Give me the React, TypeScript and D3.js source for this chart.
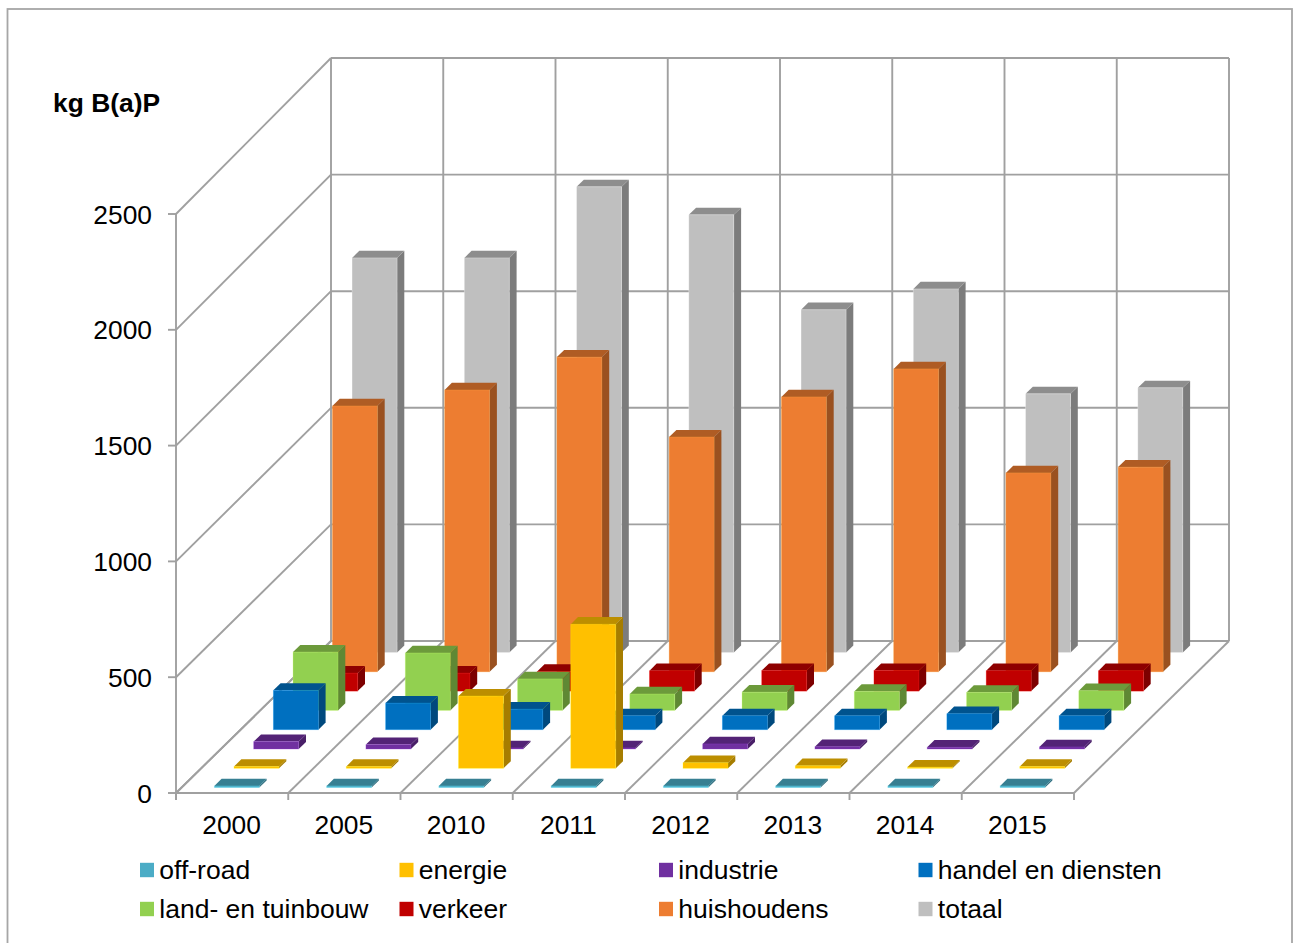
import React from "react";
import * as d3 from "d3";

const years = ["2000", "2005", "2010", "2011", "2012", "2013", "2014", "2015"];
const seriesNames = ["off-road", "energie", "industrie", "handel en diensten", "land- en tuinbouw", "verkeer", "huishoudens", "totaal"];
const seriesColors = ["#4BACC6", "#FFC000", "#7030A0", "#0070C0", "#92D050", "#C00000", "#ED7D31", "#BFBFBF"];
const valueTicks = [0, 500, 1000, 1500, 2000, 2500];

const offRoad = [7, 7, 7, 7, 7, 7, 7, 7];
const energie = [8, 8, 312, 622, 24, 11, 5, 8];
const industrie = [32, 19, 5, 5, 22, 10, 8, 9];
const handel = [170, 115, 89, 60, 60, 60, 69, 60];
const land = [252, 248, 136, 71, 79, 82, 78, 85];
const verkeer = [78, 78, 85, 88, 89, 89, 88, 88];
const huishoudens = [1148, 1217, 1359, 1014, 1187, 1308, 859, 884];
const totaal = [1704, 1704, 2011, 1890, 1480, 1570, 1117, 1143];
const seriesValues = [offRoad, energie, industrie, handel, land, verkeer, huishoudens, totaal];

const FRONT_LEFT = 176;
const FRONT_RIGHT = 1074;
const FLOOR_FRONT = 793;
const FLOOR_BACK = 641;
const TOP_FRONT = 214;
const TOP_BACK = 58;
const DEPTH = FLOOR_FRONT - FLOOR_BACK;
const GRID = "#A0A0A0";
const FONT = "'Liberation Sans', Arial, sans-serif";

// Category axis along the front edge of the floor.
const xCat = d3.scaleBand<string>().domain(years).range([FRONT_LEFT, FRONT_RIGHT]).paddingInner(0).paddingOuter(0);
// Value axes on the front corner and on the back wall.
const yFront = d3.scaleLinear().domain([0, 2500]).range([FLOOR_FRONT, TOP_FRONT]);
const yBack = d3.scaleLinear().domain([0, 2500]).range([FLOOR_BACK, TOP_BACK]);
// Oblique projection: distance into the chart shifts a point right and up.
const depthX = d3.scaleLinear().domain([0, DEPTH]).range([0, 155]);
// One lane per series running from the front to the back of the floor.
const lane = d3.scaleBand<number>().domain(d3.range(seriesNames.length)).range([0, DEPTH + 1]).paddingInner(0.63).paddingOuter(0.28);

const BAR_WIDTH = 45;

function pts(list: [number, number][]) {
  return list.map((p) => p.map((v) => v.toFixed(1)).join(",")).join(" ");
}

function Bar({ cat, k, value, color }: { cat: string; k: number; value: number; color: string }) {
  const d0 = lane(k) as number;
  const dd = lane.bandwidth();
  const x0 = (xCat(cat) as number) + (xCat.bandwidth() - BAR_WIDTH) / 2 + depthX(d0) - 0.8;
  const x1 = x0 + BAR_WIDTH;
  const ox = depthX(dd);
  const base = FLOOR_FRONT - d0;
  const h = FLOOR_FRONT - yFront(value);
  const top = base - h;
  const c = d3.rgb(color);
  const topFill = c.darker(0.85).formatHex();
  const sideFill = c.darker(1.2).formatHex();
  const edge = c.brighter(0.9).formatHex();
  return (
    <g>
      <polygon points={pts([[x1, base], [x1 + ox, base - dd], [x1 + ox, top - dd], [x1, top]])} fill={sideFill} />
      <polygon points={pts([[x0, top], [x0 + ox, top - dd], [x1 + ox, top - dd], [x1, top]])} fill={topFill} />
      <rect x={x0} y={top} width={BAR_WIDTH} height={h} fill={color} stroke={edge} strokeOpacity={0.35} strokeWidth={0.8} />
    </g>
  );
}

function Walls() {
  const step = xCat.step();
  const verticals = d3.range(years.length + 1);
  const line = { stroke: GRID, strokeWidth: 1.9, fill: "none" };
  return (
    <g>
      {valueTicks.map((t) => (
        <g key={t}>
          <line x1={FRONT_LEFT} y1={yFront(t)} x2={FRONT_LEFT + 155} y2={yBack(t)} {...line} />
          <line x1={FRONT_LEFT + 155} y1={yBack(t)} x2={FRONT_RIGHT + 155} y2={yBack(t)} {...line} />
          <line x1={FRONT_LEFT - 8} y1={yFront(t)} x2={FRONT_LEFT} y2={yFront(t)} {...line} />
          <text x={152} y={yFront(t) + 9.5} textAnchor="end" fontSize={26.4}>{t}</text>
        </g>
      ))}
      <line x1={FRONT_LEFT} y1={TOP_FRONT} x2={FRONT_LEFT} y2={FLOOR_FRONT + 7} {...line} />
      {verticals.map((i) => {
        const x = FRONT_LEFT + i * step;
        return (
          <g key={i}>
            <line x1={x + 155} y1={TOP_BACK} x2={x + 155} y2={FLOOR_BACK} {...line} />
            <line x1={x} y1={FLOOR_FRONT} x2={x + 155} y2={FLOOR_BACK} {...line} />
            <line x1={x} y1={FLOOR_FRONT} x2={x} y2={FLOOR_FRONT + 7} {...line} />
          </g>
        );
      })}
      <line x1={FRONT_LEFT} y1={FLOOR_FRONT} x2={FRONT_RIGHT} y2={FLOOR_FRONT} {...line} />
    </g>
  );
}

function Legend() {
  const col = d3.scaleLinear().domain([0, 1]).range([140, 399.5]);
  const row = d3.scaleLinear().domain([0, 1]).range([870, 909]);
  return (
    <g>
      {seriesNames.map((name, i) => {
        const x = col(i % 4);
        const y = row(Math.floor(i / 4));
        return (
          <g key={name}>
            <rect x={x} y={y - 7.2} width={14} height={14.4} fill={seriesColors[i]} />
            <text x={x + 19.3} y={y + 9.2} fontSize={26.5}>{name}</text>
          </g>
        );
      })}
    </g>
  );
}

export default function App() {
  const laneOrder = d3.range(seriesNames.length).reverse();
  return (
    <svg
      width={1293}
      height={943}
      viewBox="0 0 1293 943"
      style={{ position: "absolute", left: 0, top: 0, display: "block", background: "#fff" }}
      fontFamily={FONT}
      fill="#000"
    >
      <rect x={7.5} y={9} width={1284.5} height={950} fill="#fff" stroke="#A6A6A6" strokeWidth={1.8} />
      <Walls />
      {laneOrder.map((k) => (
        <g key={seriesNames[k]}>
          {years.map((yr, i) => (
            <Bar key={yr} cat={yr} k={k} value={seriesValues[k][i]} color={seriesColors[k]} />
          ))}
        </g>
      ))}
      {years.map((yr) => (
        <text key={yr} x={(xCat(yr) as number) + xCat.bandwidth() / 2 - 0.5} y={833.6} textAnchor="middle" fontSize={26.4}>{yr}</text>
      ))}
      <text x={53} y={112} fontSize={26.4} fontWeight="bold">kg B(a)P</text>
      <Legend />
    </svg>
  );
}
